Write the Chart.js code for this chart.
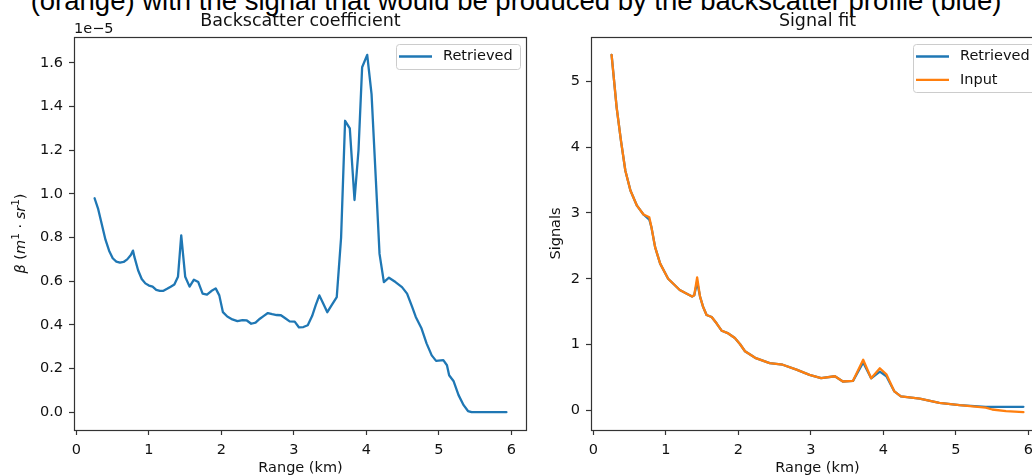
<!DOCTYPE html>
<html><head><meta charset="utf-8">
<script src="https://cdn.jsdelivr.net/npm/chart.js@4.4.0/dist/chart.umd.min.js"></script>
<style>
html,body{margin:0;padding:0;background:#fff;overflow:hidden;width:1032px;height:475px;position:relative}
#sup{position:absolute;left:0;width:1032px;top:-13px;text-align:center;font-family:"Liberation Sans",Arial,sans-serif;font-size:27.5px;line-height:27.5px;color:#000;white-space:nowrap}
#c1{position:absolute;left:0;top:0}
#c2{position:absolute;left:540px;top:0}
</style></head><body>
<div id="sup">(orange) with the signal that would be produced by the backscatter profile (blue)</div>
<canvas id="c1" width="540" height="475"></canvas>
<canvas id="c2" width="520" height="475"></canvas>
<script>
// ---------- data ----------
// Backscatter coefficient, values in units of 1e-5 m^-1 sr^-1
const backscatterRange = [0.25,0.30,0.35,0.40,0.45,0.50,0.55,0.60,0.65,0.70,0.75,0.78,0.80,0.85,0.90,0.95,1.00,1.05,1.10,1.15,1.20,1.25,1.30,1.35,1.40,1.445,1.50,1.56,1.62,1.68,1.74,1.80,1.86,1.92,1.97,2.02,2.08,2.15,2.22,2.29,2.35,2.41,2.47,2.53,2.58,2.64,2.70,2.76,2.82,2.88,2.94,3.01,3.07,3.13,3.19,3.25,3.30,3.35,3.40,3.46,3.52,3.59,3.65,3.705,3.77,3.835,3.89,3.94,4.01,4.07,4.13,4.18,4.24,4.31,4.40,4.49,4.56,4.63,4.68,4.76,4.83,4.90,4.96,5.06,5.11,5.14,5.20,5.27,5.34,5.40,5.45,5.93];
const backscatterRetrieved = [0.98,0.93,0.86,0.79,0.74,0.705,0.69,0.685,0.688,0.70,0.72,0.74,0.71,0.65,0.61,0.59,0.58,0.575,0.56,0.556,0.556,0.565,0.575,0.585,0.62,0.81,0.62,0.575,0.607,0.596,0.543,0.538,0.555,0.567,0.535,0.458,0.438,0.425,0.417,0.422,0.42,0.405,0.41,0.428,0.44,0.454,0.449,0.445,0.444,0.43,0.416,0.415,0.388,0.39,0.398,0.44,0.49,0.535,0.50,0.458,0.49,0.527,0.80,1.335,1.30,0.972,1.20,1.58,1.637,1.457,1.06,0.725,0.596,0.616,0.596,0.573,0.543,0.482,0.436,0.383,0.314,0.26,0.235,0.238,0.215,0.169,0.143,0.078,0.032,0.005,0.0,0.0];

// Signal fit
const signalRange = [0.25,0.32,0.38,0.44,0.51,0.60,0.69,0.77,0.80,0.85,0.92,1.03,1.19,1.36,1.39,1.43,1.47,1.51,1.56,1.63,1.70,1.77,1.86,1.95,2.02,2.09,2.23,2.43,2.61,2.80,2.98,3.14,3.33,3.44,3.58,3.72,3.83,3.95,4.04,4.15,4.24,4.50,4.77,5.05,5.41,5.50,5.69,5.93];
const signalRetrieved = [5.40,4.60,4.09,3.64,3.34,3.11,2.976,2.90,2.78,2.48,2.23,2.00,1.83,1.73,1.75,1.95,1.73,1.58,1.45,1.42,1.32,1.21,1.17,1.10,1.01,0.90,0.80,0.72,0.695,0.62,0.54,0.49,0.52,0.44,0.45,0.73,0.49,0.59,0.52,0.29,0.215,0.18,0.115,0.08,0.056,0.056,0.056,0.056];
const signalInput = [5.40,4.60,4.09,3.64,3.34,3.11,2.976,2.935,2.78,2.48,2.23,2.00,1.83,1.73,1.75,2.02,1.73,1.58,1.45,1.42,1.32,1.21,1.17,1.10,1.01,0.90,0.80,0.72,0.695,0.62,0.54,0.49,0.52,0.44,0.45,0.77,0.49,0.64,0.55,0.29,0.215,0.18,0.115,0.08,0.045,0.015,-0.01,-0.025];

// tick labels
const rangeTicks = [0,1,2,3,4,5,6];
const betaTicks = [0.0,0.2,0.4,0.6,0.8,1.0,1.2,1.4,1.6];
const signalTicks = [0,1,2,3,4,5];

// ---------- styling ----------
const FAM = '"DejaVu Sans", sans-serif';
const TXT = '#111';
const SPINE = '#333';
const BLUE = '#1f77b4', ORANGE = '#ff7f0e';

function pts(xs, ys){ return xs.map((x,i)=>({x:x, y:ys[i]})); }
function lim(arr){ const mn=Math.min(...arr), mx=Math.max(...arr), m=(mx-mn)*0.05; return [mn-m, mx+m]; }

function drawRuns(ctx, runs, cx, cy, rotate){
  ctx.save(); ctx.translate(cx, cy); if (rotate) ctx.rotate(-Math.PI/2);
  let total=0;
  runs.forEach(r=>{ ctx.font=r.f; r.w=ctx.measureText(r.t).width; total+=r.w; });
  let x=-total/2; ctx.textBaseline='alphabetic'; ctx.textAlign='left'; ctx.fillStyle=TXT;
  runs.forEach(r=>{ ctx.font=r.f; ctx.fillText(r.t, x, r.dy||0); x+=r.w; });
  ctx.restore();
}

const decor = {
  id:'decor',
  afterDraw(chart, args, o){
    const ctx=chart.ctx, a=chart.chartArea;
    ctx.save();
    // spines
    ctx.strokeStyle=SPINE; ctx.lineWidth=1.2;
    ctx.strokeRect(Math.round(a.left)+0.5, Math.round(a.top)+0.5, Math.round(a.right-a.left)-1, Math.round(a.bottom-a.top));
    const cx=(a.left+a.right)/2;
    // subplot title
    ctx.fillStyle=TXT; ctx.textAlign='center'; ctx.textBaseline='alphabetic';
    ctx.font='17.5px '+FAM; ctx.fillText(o.title, cx, 26);
    // x label
    ctx.font='14.5px '+FAM; ctx.fillText(o.xlabel, cx, 472);
    // y label
    drawRuns(ctx, o.ylabel, o.ylabelX, (a.top+a.bottom)/2, true);
    // offset text
    if (o.offset){ ctx.textAlign='left'; ctx.font='14.5px '+FAM; ctx.fillText(o.offset, a.left, 33); }
    // legend
    const ds=chart.data.datasets;
    const bw=124, bh= ds.length===1 ? 25 : 48;
    const bx=a.right-7-bw, by=a.top+7;
    ctx.beginPath();
    if (ctx.roundRect) ctx.roundRect(bx+0.5, by+0.5, bw, bh, 3); else ctx.rect(bx+0.5,by+0.5,bw,bh);
    ctx.fillStyle='rgba(255,255,255,0.8)'; ctx.fill();
    ctx.strokeStyle='#cccccc'; ctx.lineWidth=1; ctx.stroke();
    ds.forEach((d,i)=>{
      const yy=by+12.5+i*23.3;
      ctx.strokeStyle=d.borderColor; ctx.lineWidth=2.3;
      ctx.beginPath(); ctx.moveTo(bx+3, yy); ctx.lineTo(bx+36, yy); ctx.stroke();
      ctx.fillStyle=TXT; ctx.font='14.5px '+FAM; ctx.textAlign='left'; ctx.textBaseline='middle';
      ctx.fillText(d.label, bx+47, yy);
    });
    ctx.restore();
  }
};

function axisX(limits){
  return {
    type:'linear', position:'bottom', min:limits[0], max:limits[1],
    afterFit(s){ s.height=45; },
    afterBuildTicks(s){ s.ticks=rangeTicks.map(v=>({value:v})); },
    ticks:{ font:{family:FAM,size:14.5}, color:TXT, padding:7, maxRotation:0, autoSkip:false, callback:v=>String(v) },
    grid:{ display:true, drawOnChartArea:false, drawTicks:true, tickLength:5, tickWidth:1.2, tickColor:SPINE },
    border:{ display:false }
  };
}
function axisY(limits, ticks, width, fmt){
  return {
    type:'linear', position:'left', min:limits[0], max:limits[1],
    afterFit(s){ s.width=width; },
    afterBuildTicks(s){ s.ticks=ticks.map(v=>({value:v})); },
    ticks:{ font:{family:FAM,size:14.5}, color:TXT, padding:6, autoSkip:false, callback:fmt },
    grid:{ display:true, drawOnChartArea:false, drawTicks:true, tickLength:5, tickWidth:1.2, tickColor:SPINE },
    border:{ display:false }
  };
}
const common = {
  responsive:false, animation:false, events:[],
  plugins:{ legend:{display:false}, tooltip:{enabled:false} },
  elements:{ point:{radius:0}, line:{tension:0, borderWidth:2.3, borderCapStyle:'round', borderJoinStyle:'round'} }
};

const xlimL = lim(backscatterRange);
const ylimL = lim(backscatterRetrieved);
new Chart(document.getElementById('c1'), {
  type:'line',
  data:{ datasets:[
    { label:'Retrieved', data:pts(backscatterRange, backscatterRetrieved), borderColor:BLUE, backgroundColor:BLUE, fill:false }
  ]},
  options:Object.assign({}, common, {
    layout:{ padding:{ left:0, top:37, right:13, bottom:0 } },
    scales:{ x:axisX(xlimL), y:axisY(ylimL, betaTicks, 74, v=>v.toFixed(1)) },
    plugins:Object.assign({}, common.plugins, { decor:{
      title:'Backscatter coefficient', xlabel:'Range (km)', offset:'1e\u22125', ylabelX:25,
      ylabel:[
        {t:'\u03b2', f:'italic 14.5px '+FAM},
        {t:' (', f:'14.5px '+FAM},
        {t:'m', f:'italic 14.5px '+FAM},
        {t:'1', f:'10.5px '+FAM, dy:-6},
        {t:' \u00b7 ', f:'14.5px '+FAM},
        {t:'sr', f:'italic 14.5px '+FAM},
        {t:'1', f:'10.5px '+FAM, dy:-6},
        {t:')', f:'14.5px '+FAM}
      ]
    }})
  }),
  plugins:[decor]
});

const allSig = signalRetrieved.concat(signalInput);
const xlimR = lim(signalRange);
const ylimR = lim(allSig);
new Chart(document.getElementById('c2'), {
  type:'line',
  data:{ datasets:[
    { label:'Retrieved', data:pts(signalRange, signalRetrieved), borderColor:BLUE, backgroundColor:BLUE, fill:false, order:1 },
    { label:'Input', data:pts(signalRange, signalInput), borderColor:ORANGE, backgroundColor:ORANGE, fill:false, order:0 }
  ]},
  options:Object.assign({}, common, {
    layout:{ padding:{ left:0, top:37, right:16, bottom:0 } },
    scales:{ x:axisX(xlimR), y:axisY(ylimR, signalTicks, 51, v=>String(v)) },
    plugins:Object.assign({}, common.plugins, { decor:{
      title:'Signal fit', xlabel:'Range (km)', ylabelX:20,
      ylabel:[{t:'Signals', f:'14.5px '+FAM}]
    }})
  }),
  plugins:[decor]
});
</script>
</body></html>
